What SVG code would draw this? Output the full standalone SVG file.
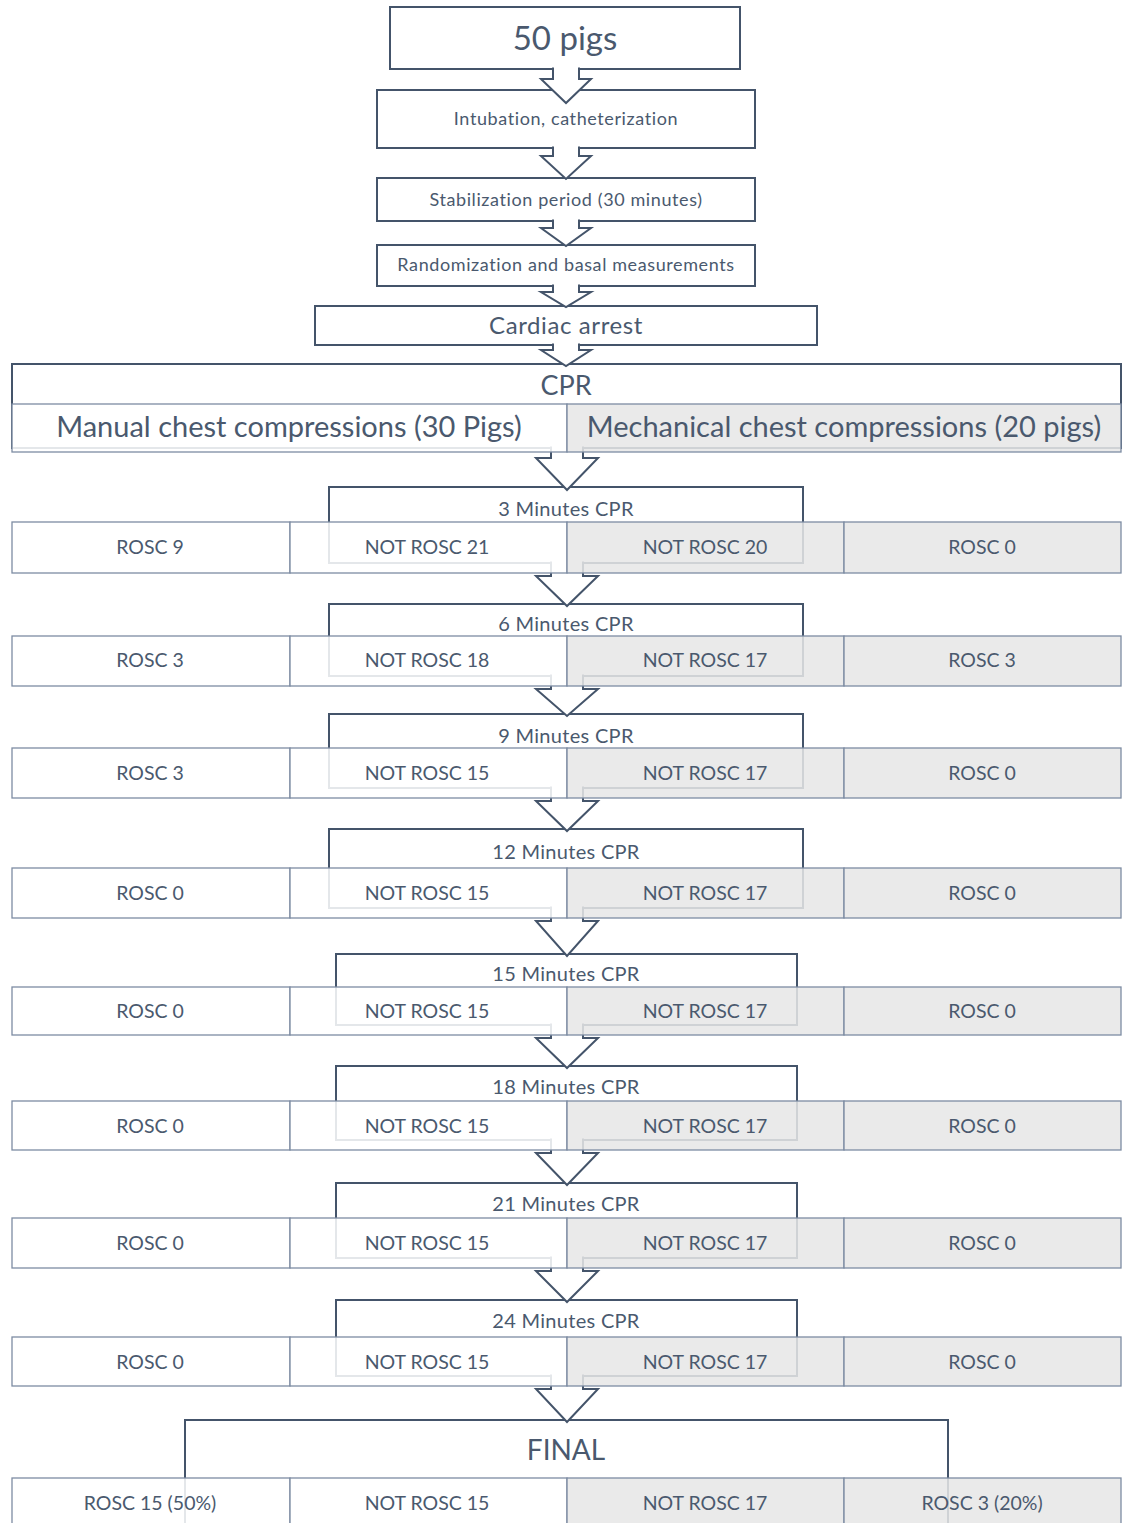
<svg xmlns="http://www.w3.org/2000/svg" width="1128" height="1523" viewBox="0 0 1128 1523">
<style>
  text { font-family: Lato, "Open Sans", "Liberation Sans", sans-serif; fill: #4A596E; text-anchor: middle; }
  .box { fill: #FFFFFF; stroke: #44546A; stroke-width: 2; }
  .arrow { fill: #FFFFFF; stroke: #44546A; stroke-width: 2; stroke-linejoin: miter; }
  .cw { fill: #FFFFFF; fill-opacity: 0.86; stroke: #7D8CA3; stroke-width: 1.3; }
  .cg { fill: #E7E6E6; fill-opacity: 0.86; stroke: #7D8CA3; stroke-width: 1.3; }
  .t18 { font-size: 18px; letter-spacing: 0.6px; }
  .t19 { font-size: 19.5px; }
  .th { font-size: 20px; letter-spacing: 0.3px; }
  .t24 { font-size: 24px; letter-spacing: 0.6px; }
  .t27 { font-size: 27px; }
  .t28 { font-size: 28px; }
  .t29 { font-size: 29px; }
  .t33 { font-size: 33px; }
</style>
<rect x="0" y="0" width="1128" height="1523" fill="#FFFFFF"/>

<!-- top nodes and stage frames -->
<g id="n-pigs"><rect class="box" x="390" y="7" width="350" height="62"/><text class="t33" x="565" y="50">50 pigs</text></g>
<g id="n-intubation"><rect class="box" x="377" y="90" width="378" height="58"/><text class="t18" x="566" y="125">Intubation, catheterization</text></g>
<g id="n-stabilization"><rect class="box" x="377" y="178" width="378" height="43"/><text class="t18" x="566" y="206">Stabilization period (30 minutes)</text></g>
<g id="n-randomization"><rect class="box" x="377" y="245" width="378" height="41"/><text class="t18" x="566" y="271">Randomization and basal measurements</text></g>
<g id="n-arrest"><rect class="box" x="315" y="306" width="502" height="39"/><text class="t24" x="566" y="334">Cardiac arrest</text></g>
<g id="n-cpr"><rect class="box" x="12" y="364" width="1109" height="84"/><text class="t27" x="566" y="395">CPR</text></g>
<g id="n-3min"><rect class="box" x="329" y="487" width="474" height="76"/><text class="th" x="566" y="516">3 Minutes CPR</text></g>
<g id="n-6min"><rect class="box" x="329" y="604" width="474" height="72"/><text class="th" x="566" y="631">6 Minutes CPR</text></g>
<g id="n-9min"><rect class="box" x="329" y="714" width="474" height="74"/><text class="th" x="566" y="743">9 Minutes CPR</text></g>
<g id="n-12min"><rect class="box" x="329" y="829" width="474" height="79"/><text class="th" x="566" y="859">12 Minutes CPR</text></g>
<g id="n-15min"><rect class="box" x="336" y="954" width="461" height="71"/><text class="th" x="566" y="981">15 Minutes CPR</text></g>
<g id="n-18min"><rect class="box" x="336" y="1066" width="461" height="74"/><text class="th" x="566" y="1094">18 Minutes CPR</text></g>
<g id="n-21min"><rect class="box" x="336" y="1183" width="461" height="75"/><text class="th" x="566" y="1211">21 Minutes CPR</text></g>
<g id="n-24min"><rect class="box" x="336" y="1300" width="461" height="76"/><text class="th" x="566" y="1328">24 Minutes CPR</text></g>
<g id="n-final"><rect class="box" x="185" y="1420" width="763" height="120"/><text class="t28" x="566" y="1460">FINAL</text></g>

<!-- connectors -->
<g id="connectors">
  <path class="arrow" d="M553 67.5 V79 H541 L566 103 L591 79 H579 V67.5"/>
  <path class="arrow" d="M553 146.5 V156 H541 L566 179 L591 156 H579 V146.5"/>
  <path class="arrow" d="M553 219.5 V228 H541 L566 246 L591 228 H579 V219.5"/>
  <path class="arrow" d="M553 284.5 V292 H541 L566 307 L591 292 H579 V284.5"/>
  <path class="arrow" d="M553 343.5 V350 H541 L566 366 L591 350 H579 V343.5"/>
  <path class="arrow" d="M551 446.5 V458 H536 L567 490 L598 458 H583 V446.5"/>
  <path class="arrow" d="M551 561.5 V576 H536 L567 606 L598 576 H583 V561.5"/>
  <path class="arrow" d="M551 674.5 V689 H536 L567 716 L598 689 H583 V674.5"/>
  <path class="arrow" d="M551 786.5 V801 H536 L567 831 L598 801 H583 V786.5"/>
  <path class="arrow" d="M551 906.5 V921 H536 L567 956 L598 921 H583 V906.5"/>
  <path class="arrow" d="M551 1023.5 V1038 H536 L567 1068 L598 1038 H583 V1023.5"/>
  <path class="arrow" d="M551 1138.5 V1153 H536 L567 1185 L598 1153 H583 V1138.5"/>
  <path class="arrow" d="M551 1256.5 V1271 H536 L567 1302 L598 1271 H583 V1256.5"/>
  <path class="arrow" d="M551 1374.5 V1389 H536 L567 1422 L598 1389 H583 V1374.5"/>
</g>

<!-- result rows -->
<g id="r-groups">
  <rect class="cw" x="12" y="404" width="555" height="48"/><rect class="cg" x="567" y="404" width="554" height="48"/>
  <text class="t29" x="289" y="437">Manual chest compressions (30 Pigs)</text>
  <text class="t29" x="844" y="437">Mechanical chest compressions (20 pigs)</text>
</g>
<g id="r-3min">
  <rect class="cw" x="12" y="522" width="278" height="51"/><rect class="cw" x="290" y="522" width="277" height="51"/><rect class="cg" x="567" y="522" width="277" height="51"/><rect class="cg" x="844" y="522" width="277" height="51"/>
  <text class="t19" x="150" y="554">ROSC 9</text><text class="t19" x="427" y="554">NOT ROSC 21</text><text class="t19" x="705" y="554">NOT ROSC 20</text><text class="t19" x="982" y="554">ROSC 0</text>
</g>
<g id="r-6min">
  <rect class="cw" x="12" y="636" width="278" height="50"/><rect class="cw" x="290" y="636" width="277" height="50"/><rect class="cg" x="567" y="636" width="277" height="50"/><rect class="cg" x="844" y="636" width="277" height="50"/>
  <text class="t19" x="150" y="667">ROSC 3</text><text class="t19" x="427" y="667">NOT ROSC 18</text><text class="t19" x="705" y="667">NOT ROSC 17</text><text class="t19" x="982" y="667">ROSC 3</text>
</g>
<g id="r-9min">
  <rect class="cw" x="12" y="748" width="278" height="50"/><rect class="cw" x="290" y="748" width="277" height="50"/><rect class="cg" x="567" y="748" width="277" height="50"/><rect class="cg" x="844" y="748" width="277" height="50"/>
  <text class="t19" x="150" y="780">ROSC 3</text><text class="t19" x="427" y="780">NOT ROSC 15</text><text class="t19" x="705" y="780">NOT ROSC 17</text><text class="t19" x="982" y="780">ROSC 0</text>
</g>
<g id="r-12min">
  <rect class="cw" x="12" y="868" width="278" height="50"/><rect class="cw" x="290" y="868" width="277" height="50"/><rect class="cg" x="567" y="868" width="277" height="50"/><rect class="cg" x="844" y="868" width="277" height="50"/>
  <text class="t19" x="150" y="900">ROSC 0</text><text class="t19" x="427" y="900">NOT ROSC 15</text><text class="t19" x="705" y="900">NOT ROSC 17</text><text class="t19" x="982" y="900">ROSC 0</text>
</g>
<g id="r-15min">
  <rect class="cw" x="12" y="987" width="278" height="48"/><rect class="cw" x="290" y="987" width="277" height="48"/><rect class="cg" x="567" y="987" width="277" height="48"/><rect class="cg" x="844" y="987" width="277" height="48"/>
  <text class="t19" x="150" y="1018">ROSC 0</text><text class="t19" x="427" y="1018">NOT ROSC 15</text><text class="t19" x="705" y="1018">NOT ROSC 17</text><text class="t19" x="982" y="1018">ROSC 0</text>
</g>
<g id="r-18min">
  <rect class="cw" x="12" y="1101" width="278" height="49"/><rect class="cw" x="290" y="1101" width="277" height="49"/><rect class="cg" x="567" y="1101" width="277" height="49"/><rect class="cg" x="844" y="1101" width="277" height="49"/>
  <text class="t19" x="150" y="1133">ROSC 0</text><text class="t19" x="427" y="1133">NOT ROSC 15</text><text class="t19" x="705" y="1133">NOT ROSC 17</text><text class="t19" x="982" y="1133">ROSC 0</text>
</g>
<g id="r-21min">
  <rect class="cw" x="12" y="1218" width="278" height="50"/><rect class="cw" x="290" y="1218" width="277" height="50"/><rect class="cg" x="567" y="1218" width="277" height="50"/><rect class="cg" x="844" y="1218" width="277" height="50"/>
  <text class="t19" x="150" y="1250">ROSC 0</text><text class="t19" x="427" y="1250">NOT ROSC 15</text><text class="t19" x="705" y="1250">NOT ROSC 17</text><text class="t19" x="982" y="1250">ROSC 0</text>
</g>
<g id="r-24min">
  <rect class="cw" x="12" y="1337" width="278" height="49"/><rect class="cw" x="290" y="1337" width="277" height="49"/><rect class="cg" x="567" y="1337" width="277" height="49"/><rect class="cg" x="844" y="1337" width="277" height="49"/>
  <text class="t19" x="150" y="1369">ROSC 0</text><text class="t19" x="427" y="1369">NOT ROSC 15</text><text class="t19" x="705" y="1369">NOT ROSC 17</text><text class="t19" x="982" y="1369">ROSC 0</text>
</g>
<g id="r-final">
  <rect class="cw" x="12" y="1478" width="278" height="60"/><rect class="cw" x="290" y="1478" width="277" height="60"/><rect class="cg" x="567" y="1478" width="277" height="60"/><rect class="cg" x="844" y="1478" width="277" height="60"/>
  <text class="t19" x="150" y="1510">ROSC 15 (50%)</text><text class="t19" x="427" y="1510">NOT ROSC 15</text><text class="t19" x="705" y="1510">NOT ROSC 17</text><text class="t19" x="982" y="1510">ROSC 3 (20%)</text>
</g>
</svg>
